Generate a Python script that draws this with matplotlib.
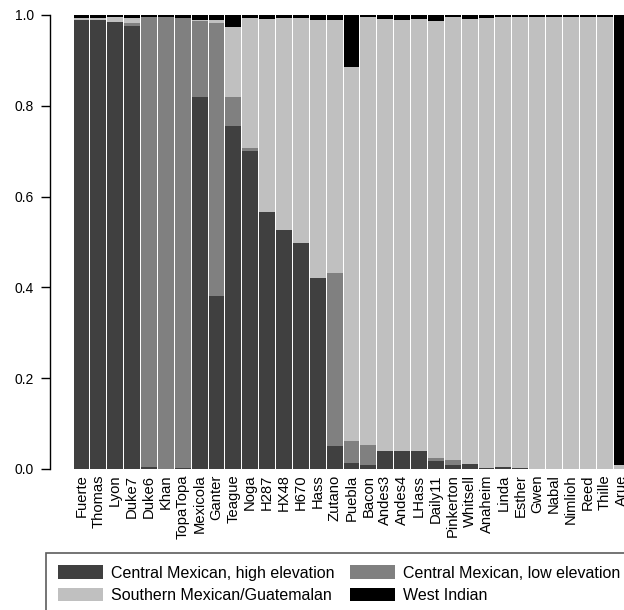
import numpy as np
import matplotlib
matplotlib.use("Agg")
import matplotlib.pyplot as plt

plt.rcParams['font.family'] = ['Liberation Sans', 'DejaVu Sans']

cultivars = ["Fuerte", "Thomas", "Lyon", "Duke7", "Duke6", "Khan", "TopaTopa",
             "Mexicola", "Ganter", "Teague", "Noga", "H287", "HX48", "H670",
             "Hass", "Zutano", "Puebla", "Bacon", "Andes3", "Andes4", "LHass",
             "Daily11", "Pinkerton", "Whitsell", "Anaheim", "Linda", "Esther",
             "Gwen", "Nabal", "Nimlioh", "Reed", "Thille", "Arue"]

# ancestry proportions
central_high = [0.990, 0.990, 0.985, 0.975, 0.005, 0.000, 0.003, 0.820, 0.380,
                0.755, 0.700, 0.565, 0.526, 0.497, 0.421, 0.051, 0.013, 0.009,
                0.040, 0.040, 0.040, 0.018, 0.009, 0.011, 0.003, 0.005, 0.002,
                0.000, 0.000, 0.000, 0.000, 0.000, 0.000]
central_low = [0.000, 0.000, 0.000, 0.008, 0.990, 0.995, 0.990, 0.167, 0.603,
               0.065, 0.006, 0.000, 0.000, 0.000, 0.000, 0.381, 0.049, 0.044,
               0.000, 0.000, 0.000, 0.006, 0.011, 0.000, 0.000, 0.000, 0.000,
               0.000, 0.000, 0.000, 0.000, 0.000, 0.000]
southern = [0.004, 0.003, 0.010, 0.010, 0.000, 0.000, 0.000, 0.003, 0.005,
            0.154, 0.287, 0.427, 0.467, 0.496, 0.569, 0.556, 0.824, 0.942,
            0.951, 0.950, 0.951, 0.963, 0.975, 0.981, 0.991, 0.990, 0.993,
            0.995, 0.996, 0.996, 0.996, 0.996, 0.008]
west_indian = [0.006, 0.007, 0.005, 0.007, 0.005, 0.005, 0.007, 0.010, 0.012,
               0.026, 0.007, 0.008, 0.007, 0.007, 0.010, 0.012, 0.114, 0.005,
               0.009, 0.010, 0.009, 0.013, 0.005, 0.008, 0.006, 0.005, 0.005,
               0.005, 0.004, 0.004, 0.004, 0.004, 0.992]

groups = [
    ("Central Mexican, high elevation", central_high, "#404040"),
    ("Central Mexican, low elevation", central_low, "#808080"),
    ("Southern Mexican/Guatemalan", southern, "#c0c0c0"),
    ("West Indian", west_indian, "#000000"),
]

fig = plt.figure(figsize=(6.24, 6.10), dpi=100)
# axes runs past the right edge, the last bar is cut off like in the source
ax = fig.add_axes([73 / 624, 141 / 610, 557 / 624, 454 / 610])

x = np.arange(len(cultivars))
bottom = np.zeros(len(cultivars))
handles = {}
for label, vals, col in groups:
    vals = np.array(vals)
    b = ax.bar(x, vals, bottom=bottom, width=0.94, color=col, linewidth=0)
    handles[label] = b
    bottom += vals

ax.set_xlim(-0.5, len(cultivars) - 0.5)
ax.set_ylim(0, 1)
ax.set_xticks(x)
ax.set_xticklabels(cultivars, rotation=90, fontsize=10.6)
ax.set_yticks([0.0, 0.2, 0.4, 0.6, 0.8, 1.0])
ax.set_yticklabels(["0.0", "0.2", "0.4", "0.6", "0.8", "1.0"], fontsize=10.6)
ax.tick_params(axis='x', length=0, pad=4)
ax.tick_params(axis='y', length=6.5, width=1, pad=5)

for s in ["top", "right", "bottom"]:
    ax.spines[s].set_visible(False)
ax.spines["left"].set_position(("outward", 16.5))
ax.spines["left"].set_linewidth(1)

# legend order: column 1 then column 2
order = ["Central Mexican, high elevation", "Southern Mexican/Guatemalan",
         "Central Mexican, low elevation", "West Indian"]
leg = fig.legend([handles[k] for k in order], order, ncol=2,
                 loc="upper left", bbox_to_anchor=(46 / 624, 1 - 553 / 610),
                 fontsize=11.5, frameon=True, fancybox=False,
                 handlelength=2.8, handleheight=0.88, handletextpad=0.5,
                 columnspacing=0.95, labelspacing=0.48, borderpad=0.78,
                 borderaxespad=0)
leg.get_frame().set_edgecolor("#333333")
leg.get_frame().set_linewidth(1.2)

fig.savefig("out.png", dpi=100)
